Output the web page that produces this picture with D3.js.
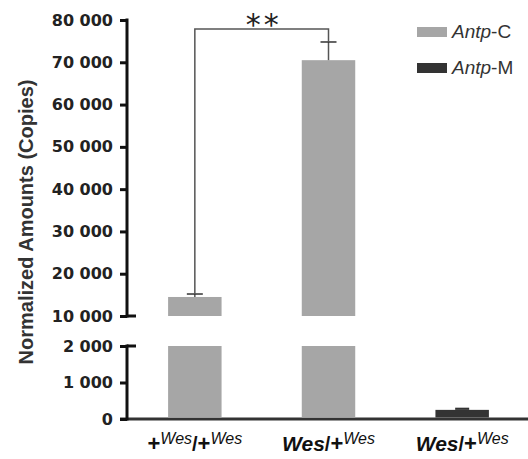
<!DOCTYPE html>
<html>
<head>
<meta charset="utf-8">
<script src="https://cdn.jsdelivr.net/npm/d3@7"></script>
<style>
  body { margin: 0; background: #fff; }
  svg { display: block; }
</style>
</head>
<body>
<script>
const groups = ["g1", "g2", "g3"];
const antpC = [14500, 70500, 0];
const antpCErr = [700, 4300, 0];
const antpM = [0, 0, 250];
const antpMErr = [0, 0, 60];
const upperTicks = [10000, 20000, 30000, 40000, 50000, 60000, 70000, 80000];
const lowerTicks = [0, 1000, 2000];
const seriesNames = ["C", "M"];

const width = 528, height = 459;
const colorC = "#a6a6a6", colorM = "#333333";

const svg = d3.select("body").append("svg")
  .attr("width", width)
  .attr("height", height);

const x = d3.scaleBand().domain(groups).range([128, 529]).paddingInner(0.6).paddingOuter(0.3);
const yTop = d3.scaleLinear().domain([10000, 80000]).range([316, 20]);
const yBot = d3.scaleLinear().domain([0, 2000]).range([419, 346]);

const locale = d3.formatLocale({ decimal: ".", thousands: " ", grouping: [3], currency: ["", ""] });
const fmt = locale.format(",");

// baseline
svg.append("line")
  .attr("x1", 120).attr("x2", width)
  .attr("y1", yBot(0)).attr("y2", yBot(0))
  .attr("stroke", "#333").attr("stroke-width", 3);

// bars (split over the axis break)
const bars = groups.map((g, i) => ({
  g,
  v: antpC[i] || antpM[i],
  e: antpC[i] ? antpCErr[i] : antpMErr[i],
  color: antpC[i] ? colorC : colorM
}));

bars.forEach(d => {
  const bx = x(d.g), bw = x.bandwidth();
  const low = Math.min(d.v, 2000);
  svg.append("rect")
    .attr("x", bx).attr("width", bw)
    .attr("y", yBot(low)).attr("height", yBot(0) - yBot(low) - 1.5)
    .attr("fill", d.color);
  if (d.v > 10000) {
    svg.append("rect")
      .attr("x", bx).attr("width", bw)
      .attr("y", yTop(d.v)).attr("height", yTop(10000) - yTop(d.v))
      .attr("fill", d.color);
  }
});

// error bars
const cx = g => x(g) + x.bandwidth() / 2;
bars.forEach(d => {
  const y = d.v > 10000 ? yTop : yBot;
  if (d.v > 10000) {
    svg.append("line")
      .attr("x1", cx(d.g)).attr("x2", cx(d.g))
      .attr("y1", y(d.v)).attr("y2", y(d.v + d.e))
      .attr("stroke", "#555").attr("stroke-width", 1.5);
    svg.append("line")
      .attr("x1", cx(d.g) - 8).attr("x2", cx(d.g) + 8)
      .attr("y1", y(d.v + d.e)).attr("y2", y(d.v + d.e))
      .attr("stroke", "#333").attr("stroke-width", 1.5);
  } else {
    svg.append("rect")
      .attr("x", cx(d.g) - 7).attr("width", 14)
      .attr("y", y(d.v + d.e)).attr("height", y(d.v) - y(d.v + d.e))
      .attr("fill", d.color);
  }
});

// significance bracket
const yBr = 29;
const b1 = bars[0], b2 = bars[1];
svg.append("path")
  .attr("d", `M${cx(b1.g)},${yTop(b1.v + b1.e)}V${yBr}H${cx(b2.g)}V${yTop(b2.v + b2.e)}`)
  .attr("fill", "none").attr("stroke", "#555").attr("stroke-width", 1.5);
svg.append("text")
  .attr("x", (cx(b1.g) + cx(b2.g)) / 2 + 2)
  .attr("y", 35)
  .attr("text-anchor", "middle")
  .style("font-family", "DejaVu Sans")
  .style("font-size", "30px")
  .style("letter-spacing", "3px")
  .attr("fill", "#222")
  .text("**");

// axes
function styleAxis(g) {
  g.select(".domain").remove();
  g.selectAll(".tick line").attr("stroke", "#111").attr("stroke-width", 3);
  g.selectAll(".tick text")
    .attr("fill", "#222")
    .style("font-family", "DejaVu Sans")
    .style("font-weight", "bold")
    .style("font-size", "16px");
}

const axisX = 127;
svg.append("g")
  .attr("transform", `translate(${axisX},0)`)
  .call(d3.axisLeft(yTop).tickValues(upperTicks).tickFormat(fmt).tickSize(7).tickPadding(7))
  .call(styleAxis);
svg.append("g")
  .attr("transform", `translate(${axisX},0)`)
  .call(d3.axisLeft(yBot).tickValues(lowerTicks).tickFormat(fmt).tickSize(7).tickPadding(7))
  .call(styleAxis);

[[yTop(80000), yTop(10000)], [yBot(2000), yBot(0)]].forEach(([a, b]) => {
  svg.append("line")
    .attr("x1", axisX).attr("x2", axisX)
    .attr("y1", a - 1.5).attr("y2", b + 1.5)
    .attr("stroke", "#111").attr("stroke-width", 3);
});
// break caps
[yTop(10000), yBot(2000)].forEach(yy => {
  svg.append("line")
    .attr("x1", axisX).attr("x2", axisX + 9)
    .attr("y1", yy).attr("y2", yy)
    .attr("stroke", "#111").attr("stroke-width", 3);
});

// y title
const labelFont = "Liberation Sans, Arial, sans-serif";
svg.append("text")
  .attr("transform", "translate(33,222) rotate(-90)")
  .attr("text-anchor", "middle")
  .attr("fill", "#333")
  .style("font-family", labelFont)
  .style("font-weight", "bold")
  .style("font-size", "20px")
  .text("Normalized Amounts (Copies)");

// x labels
groups.forEach((g, i) => {
  const t = svg.append("text")
    .attr("x", cx(g))
    .attr("y", 451)
    .attr("text-anchor", "middle")
    .attr("fill", "#111")
    .style("font-family", labelFont)
    .style("font-weight", "bold");
  const sup = s => t.append("tspan").attr("dy", -7).style("font-size", "16px")
    .style("font-weight", "normal").style("font-style", "italic").text(s);
  const plain = (s, size, dy) => t.append("tspan").attr("dy", dy).style("font-size", size).text(s);
  if (i === 0) {
    plain("+", "22px", 0);
    sup("Wes");
    plain("/", "20px", 7);
    plain("+", "22px", 0);
    sup("Wes");
  } else {
    t.append("tspan").style("font-size", "21px").style("font-style", "italic").text("Wes");
    plain("/", "20px", 0);
    plain("+", "22px", 0);
    sup("Wes");
  }
});

// legend
const legend = svg.selectAll(".legend")
  .data(seriesNames)
  .enter().append("g")
  .attr("class", "legend")
  .attr("transform", (d, i) => `translate(417, ${27 + i * 36})`);
legend.append("rect")
  .attr("width", 30).attr("height", 10)
  .attr("fill", d => d === "C" ? colorC : colorM);
const lt = legend.append("text")
  .attr("x", 35).attr("y", 11)
  .attr("fill", "#333")
  .style("font-family", labelFont)
  .style("font-size", "19px");
lt.append("tspan").style("font-style", "italic").text("Antp");
lt.append("tspan").text(d => "-" + d);
</script>
</body>
</html>
